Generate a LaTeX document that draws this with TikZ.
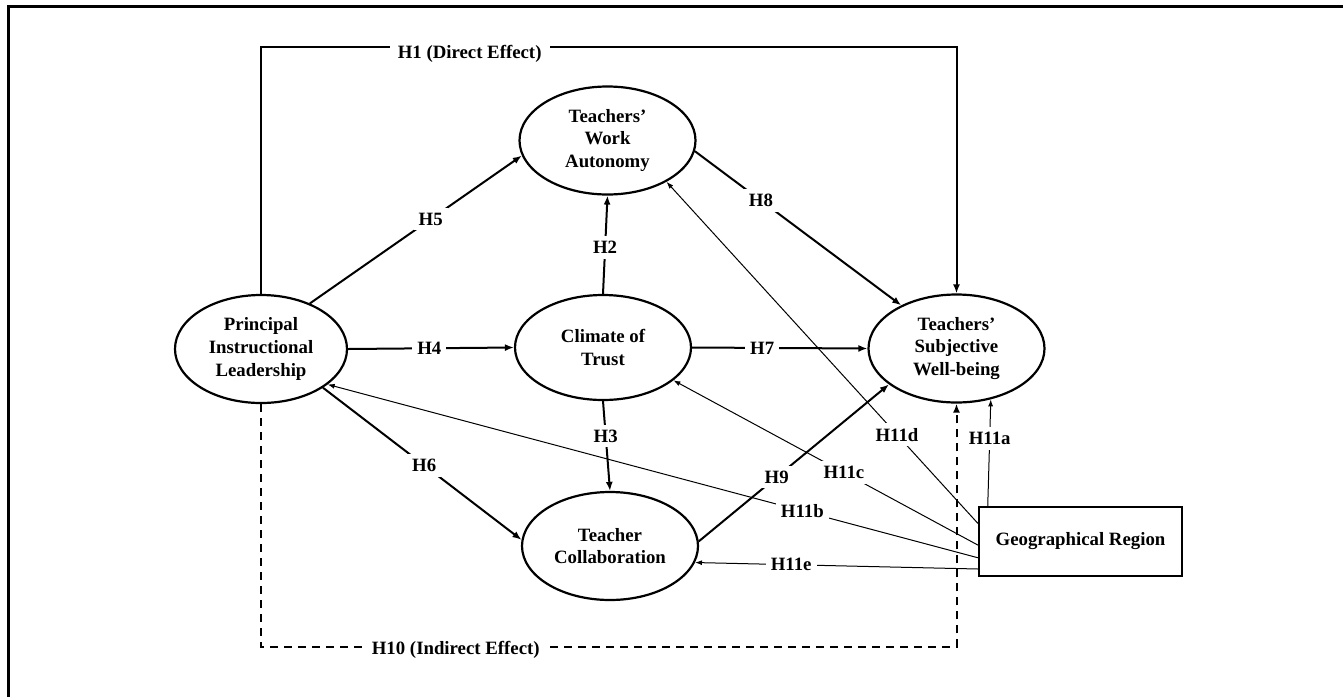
\documentclass[tikz,border=0pt]{standalone}
\usepackage{fontspec}
\setmainfont{Liberation Serif}
\usepackage{tikz}
\usetikzlibrary{positioning,arrows.meta,shapes.geometric}

\begin{document}
\begin{tikzpicture}[x=0.5pt, y=-0.5pt, font=\fontsize{9.4}{11.3}\selectfont\bfseries,
    >={Latex[length=4.5pt,width=3.5pt]},
    lv/.style={draw, ellipse, line width=1.1pt, minimum width=88pt, minimum height=54pt,
               inner sep=0pt, align=center},
    gr/.style={draw, line width=1.1pt, minimum width=101.5pt, minimum height=34.5pt},
    hl/.style={fill=white, inner sep=2.5pt},
    pth/.style={->, line width=1pt},
    mod/.style={-{Latex[length=3.5pt,width=2.5pt]}, line width=0.5pt}]

    \useasboundingbox (0,0) rectangle (1343,697);
    \draw[line width=1.5pt] (1343,6) -- (8,6) -- (8,697);

    % ---- constructs
    \node[lv, minimum width=86pt] (pil) at (261,349) {Principal\\Instructional\\Leadership};
    \node[lv] (twa) at (607.5,140.5) {Teachers'\\Work\\Autonomy};
    \node[lv, minimum height=52.5pt] (ct) at (603,347.5) {Climate of\\Trust};
    \node[lv] (tc) at (610,546) {Teacher\\Collaboration};
    \node[lv] (tsw) at (956.5,348.5) {Teachers'\\Subjective\\Well-being};
    \node[gr] (geo) at (1080.5,541.5) {Geographical Region};

    \coordinate (topy) at (0,47);
    \coordinate (boty) at (0,647);

    % ---- direct and indirect effect
    \draw[pth] (pil.north) -- (pil.north |- topy)
      -- node[hl, pos=0.3, yshift=-3.5pt, inner xsep=4pt] {H1 (Direct Effect)} (tsw.north |- topy)
      -- (tsw.north);
    \draw[pth, dash pattern=on 4pt off 3pt] (pil.south) -- (pil.south |- boty)
      -- node[hl, pos=0.28, yshift=-1.5pt, inner xsep=4pt] {H10 (Indirect Effect)} (tsw.south |- boty)
      -- (tsw.south);

    % ---- hypotheses H2--H9
    \foreach \s/\t/\lab/\p in {pil.43/twa.190/H5/0.57, pil.east/ct.west/H4/0.49,
        ct.north/twa.south/H2/0.47, ct.east/tsw.west/H7/0.4, twa.-7/tsw.142/H8/0.32,
        ct.south/tc.north/H3/0.39, pil.-32/tc.176/H6/0.51, tc.3/tsw.208/H9/0.41}
      \draw[pth] (\s) -- node[hl, pos=\p] {\lab} (\t);

    % ---- moderation by region
    \foreach \a/\t/\lab/\p in {159/tsw.-56/H11a/0.63, 170/twa.-35/H11d/0.26,
        182/ct.-25/H11c/0.44, 189/pil.-28/H11b/0.27, 195/tc.-11/H11e/0.66}
      \draw[mod] (geo.\a) -- node[hl, pos=\p] {\lab} (\t);
  \end{tikzpicture}
\end{document}
